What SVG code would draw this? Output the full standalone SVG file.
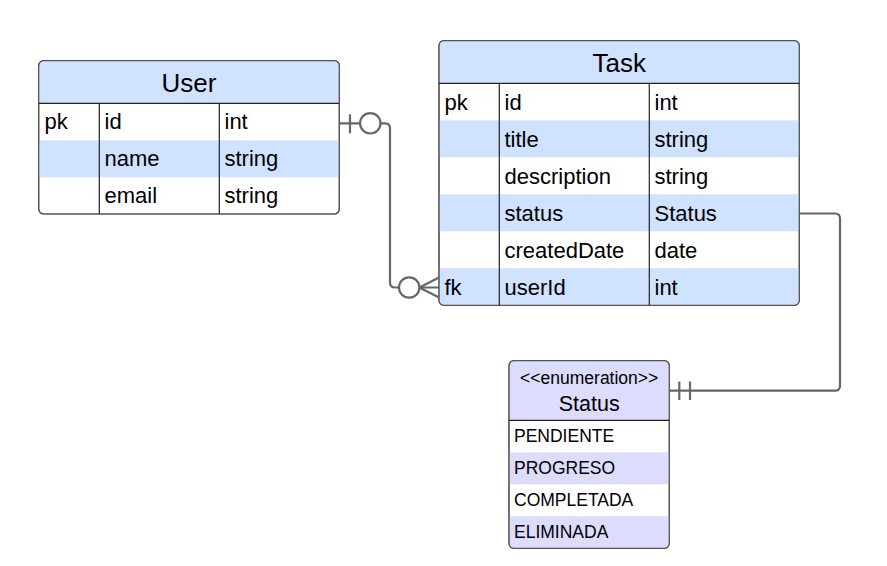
<svg xmlns="http://www.w3.org/2000/svg" width="887" height="566" viewBox="0 0 887 566">
<style>
text{font-family:"Liberation Sans",Arial,sans-serif;fill:#000}
.h{font-size:26px;text-anchor:middle}
.r{font-size:22px}
.e{font-size:17.5px}
.en{font-size:17.5px;text-anchor:middle}
.es{font-size:21.5px;text-anchor:middle}
.box{fill:#fff;stroke:#555;stroke-width:1.2}
.hb{fill:#cfe2ff}
.hl{fill:#dcdcfc}
.div{stroke:#222;stroke-width:1.2;fill:none}
.c{fill:none;stroke:#666;stroke-width:2.2}
.cw{fill:#fff;stroke:#666;stroke-width:2.2}
</style>
<rect width="887" height="566" fill="#fff"/>
<g id="User">
<rect class="box" x="38.7" y="60.7" width="300.6" height="153.3" rx="5"/>
<path class="hb" d="M43.7,61.3 H334.3 A4.4,4.4 0 0 1 338.7,65.7 V103.3 H39.3 V65.7 A4.4,4.4 0 0 1 43.7,61.3 Z"/>
<rect class="hb" x="39.3" y="140.3" width="299.4" height="37"/>
<rect x="38.7" y="60.7" width="300.6" height="153.3" rx="5" fill="none" stroke="#555" stroke-width="1.2"/>
<line class="div" x1="38.7" y1="103.3" x2="339.3" y2="103.3"/>
<line class="div" x1="99.3" y1="103.3" x2="99.3" y2="214"/>
<line class="div" x1="219.3" y1="103.3" x2="219.3" y2="214"/>
<text class="h" x="189" y="92">User</text>
<text class="r" x="44.5" y="129.3">pk</text>
<text class="r" x="104.5" y="129.3">id</text>
<text class="r" x="224.5" y="129.3">int</text>
<text class="r" x="104.5" y="166.3">name</text>
<text class="r" x="224.5" y="166.3">string</text>
<text class="r" x="104.5" y="203.3">email</text>
<text class="r" x="224.5" y="203.3">string</text>
</g>
<g id="Task">
<rect class="box" x="439" y="40.7" width="360.3" height="264.6" rx="5"/>
<path class="hb" d="M444,41.3 H794.3 A4.4,4.4 0 0 1 798.7,45.7 V83.3 H439.6 V45.7 A4.4,4.4 0 0 1 444,41.3 Z"/>
<rect class="hb" x="439.6" y="120.3" width="359.1" height="37"/>
<rect class="hb" x="439.6" y="194.3" width="359.1" height="37"/>
<path class="hb" d="M439.6,268.3 H798.7 V300.3 A4.4,4.4 0 0 1 794.3,304.7 H444 A4.4,4.4 0 0 1 439.6,300.3 Z"/>
<rect x="439" y="40.7" width="360.3" height="264.6" rx="5" fill="none" stroke="#555" stroke-width="1.2"/>
<line class="div" x1="439" y1="83.3" x2="799.3" y2="83.3"/>
<line class="div" x1="499.3" y1="83.3" x2="499.3" y2="305.3"/>
<line class="div" x1="649.3" y1="83.3" x2="649.3" y2="305.3"/>
<text class="h" x="619.2" y="72.3">Task</text>
<text class="r" x="444.5" y="109.5">pk</text>
<text class="r" x="504.5" y="109.5">id</text>
<text class="r" x="654.5" y="109.5">int</text>
<text class="r" x="504.5" y="146.5">title</text>
<text class="r" x="654.5" y="146.5">string</text>
<text class="r" x="504.5" y="183.5">description</text>
<text class="r" x="654.5" y="183.5">string</text>
<text class="r" x="504.5" y="220.5">status</text>
<text class="r" x="654.5" y="220.5">Status</text>
<text class="r" x="504.5" y="257.5">createdDate</text>
<text class="r" x="654.5" y="257.5">date</text>
<text class="r" x="444.5" y="294.5">fk</text>
<text class="r" x="504.5" y="294.5">userId</text>
<text class="r" x="654.5" y="294.5">int</text>
</g>
<g id="Status">
<rect class="box" x="509" y="360.7" width="160.3" height="187.6" rx="5"/>
<path class="hl" d="M514,361.3 H664.3 A4.4,4.4 0 0 1 668.7,365.7 V420.3 H509.6 V365.7 A4.4,4.4 0 0 1 514,361.3 Z"/>
<rect class="hl" x="509.6" y="452.3" width="159.1" height="32"/>
<path class="hl" d="M509.6,516.3 H668.7 V543.3 A4.4,4.4 0 0 1 664.3,547.7 H514 A4.4,4.4 0 0 1 509.6,543.3 Z"/>
<rect x="509" y="360.7" width="160.3" height="187.6" rx="5" fill="none" stroke="#555" stroke-width="1.2"/>
<line class="div" x1="509" y1="420.3" x2="669.3" y2="420.3"/>
<text class="en" x="589.2" y="384">&lt;&lt;enumeration&gt;&gt;</text>
<text class="es" x="589.2" y="410.5">Status</text>
<text class="e" x="514" y="442">PENDIENTE</text>
<text class="e" x="514" y="474">PROGRESO</text>
<text class="e" x="514" y="506">COMPLETADA</text>
<text class="e" x="514" y="538">ELIMINADA</text>
</g>
<g id="connectors">
<path class="c" d="M339.5,123.3 H385 Q390,123.3 390,128.3 V282.5 Q390,287.5 395,287.5 H439"/>
<line class="c" x1="350" y1="114.3" x2="350" y2="133.3"/>
<circle class="cw" cx="370.3" cy="123.3" r="10.2"/>
<circle class="cw" cx="409.2" cy="287.5" r="10.2"/>
<path class="c" d="M419.4,287.5 L439,277.5 M419.4,287.5 L439,297.5"/>
<path class="c" d="M799.3,213.5 H835 Q840,213.5 840,218.5 V385.7 Q840,390.7 835,390.7 H669.3"/>
<line class="c" x1="679.3" y1="381.5" x2="679.3" y2="400"/>
<line class="c" x1="690" y1="381.5" x2="690" y2="400"/>
</g>
</svg>
